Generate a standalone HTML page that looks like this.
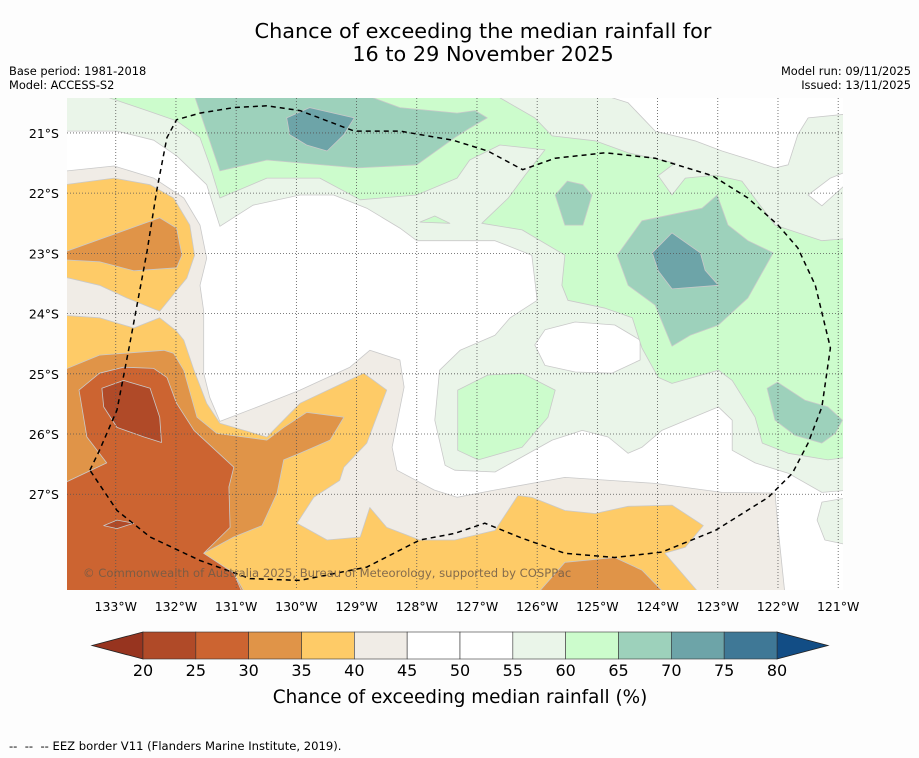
<!DOCTYPE html>
<html><head><meta charset="utf-8"><style>
body{margin:0;background:#fdfdfd;width:919px;height:758px;overflow:hidden;font-family:"DejaVu Sans","Liberation Sans",sans-serif;}
svg{position:absolute;left:0;top:0}
text{white-space:pre}
</style></head><body>
<svg id="chart" width="919" height="758">
<text x="483" y="38" font-size="20.8" text-anchor="middle" fill="#000">Chance of exceeding the median rainfall for</text>
<text x="483" y="61" font-size="20.8" text-anchor="middle" fill="#000">16 to 29 November 2025</text>
<text x="9" y="75" font-size="11.4">Base period: 1981-2018</text>
<text x="9" y="89" font-size="11.4">Model: ACCESS-S2</text>
<text x="911" y="75" font-size="11.4" text-anchor="end">Model run: 09/11/2025</text>
<text x="911" y="89" font-size="11.4" text-anchor="end">Issued: 13/11/2025</text>
<defs><clipPath id="pc"><rect x="67" y="98" width="776" height="492"/></clipPath></defs>
<rect x="67" y="98" width="776" height="492" fill="#ffffff"/>
<g id="regions" clip-path="url(#pc)"></g>
<g id="grid" clip-path="url(#pc)"></g>
<g id="eez" clip-path="url(#pc)"></g>
<text x="83" y="577" font-size="11.6" fill="#6e5a48" fill-opacity="0.85">© Commonwealth of Australia 2025, Bureau of Meteorology, supported by COSPPac</text>
<g id="axes"></g>
<g id="cbar"></g>
<text x="460" y="703" font-size="18.4" text-anchor="middle">Chance of exceeding median rainfall (%)</text>
<text x="9" y="750" font-size="11.6">--  --  -- EEZ border V11 (Flanders Marine Institute, 2019).</text>
</svg>
<script>
// Map extent (degrees W / degrees S)
const lonWest = 133.81, lonEast = 120.92, latNorth = 20.42, latSouth = 28.59;
const lonTicks = [133,132,131,130,129,128,127,126,125,124,123,122,121];
const latTicks = [21,22,23,24,25,26,27];
const cbarLevels = [20,25,30,35,40,45,50,55,60,65,70,75,80];

// Contour region polygons [lonW, latS]
const paleNorth = [[134.0,20.3],[134.0,20.97],[132.98,20.97],[132.37,21.12],[131.99,21.38],[131.49,21.86],[131.27,22.55],[130.72,22.2],[129.94,22.03],[129.38,22.03],[128.83,22.25],[128.28,22.58],[128.0,22.79],[127.37,22.79],[126.7,22.79],[126.09,23.03],[126.0,23.78],[126.45,24.07],[126.7,24.36],[127.28,24.61],[127.62,24.94],[127.7,25.77],[127.53,26.52],[127.37,26.6],[126.7,26.63],[125.75,26.1],[125.25,25.94],[124.82,26.05],[124.49,26.32],[124.26,26.22],[123.93,25.94],[122.99,25.55],[122.76,25.77],[122.76,26.27],[122.38,26.48],[121.83,26.65],[121.27,26.97],[120.8,26.93],[120.8,20.3]];
const whiteCentral = [[126.04,24.52],[125.87,24.27],[125.37,24.14],[124.71,24.19],[124.29,24.44],[124.29,24.77],[124.76,24.99],[125.37,24.97],[125.87,24.86]];
const whiteNorthEast = [[125.12,20.3],[124.49,20.5],[124.04,20.97],[123.38,21.13],[122.93,21.3],[122.38,21.47],[122.05,21.58],[121.83,21.53],[121.67,21.03],[121.5,20.75],[120.8,20.68],[120.8,20.3]];
const whiteEastA = [[121.5,22.03],[121.27,22.21],[120.88,21.86],[120.88,21.65],[121.13,21.75]];
const whiteEastB = [[122.26,24.27],[122.05,24.01],[121.63,23.98],[121.58,24.14],[121.96,24.37]];
const paleSouthEast = [[121.35,27.43],[121.27,27.13],[120.8,27.05],[120.8,27.85],[121.22,27.76]];
const greenNorth = [[133.1,20.3],[126.82,20.3],[126.04,20.75],[125.75,21.05],[125.04,21.13],[124.49,21.33],[123.71,21.5],[123.99,21.71],[123.76,22.03],[123.54,21.75],[123.04,21.7],[122.6,21.8],[122.05,22.53],[121.27,22.79],[120.8,22.75],[120.8,26.38],[121.17,26.43],[121.83,26.32],[122.26,26.15],[122.38,25.72],[122.66,25.27],[122.76,25.11],[122.99,24.94],[123.76,25.16],[123.99,25.06],[124.26,24.57],[124.42,24.07],[124.87,23.91],[125.49,23.78],[125.59,23.53],[125.54,23.03],[126.25,22.61],[126.92,22.5],[126.48,22.08],[126.2,21.7],[125.87,21.28],[126.62,21.2],[127.12,21.45],[127.33,21.75],[128.0,22.03],[128.94,22.11],[129.61,21.75],[130.49,21.75],[131.27,22.08],[131.44,21.53],[131.6,21.08],[131.99,20.8],[132.48,20.63],[133.1,20.42]];
const greenSpeck = [[127.95,22.48],[127.7,22.38],[127.45,22.5]];
const greenWest = [[127.32,25.27],[126.82,25.02],[126.25,24.99],[125.7,25.27],[125.82,25.72],[126.25,26.22],[126.98,26.43],[127.32,26.27],[127.32,25.82]];
const tealNorth = [[131.72,20.3],[129.04,20.3],[128.28,20.58],[127.33,20.67],[127.03,20.63],[126.83,20.75],[127.12,20.92],[127.37,21.08],[128.0,21.53],[128.99,21.58],[130.49,21.45],[131.27,21.63]];
const tealSmall = [[125.7,22.03],[125.5,21.8],[125.24,21.86],[125.09,22.03],[125.24,22.53],[125.54,22.53]];
const tealCentral = [[124.67,23.03],[124.26,22.46],[123.26,22.25],[123.01,22.03],[122.83,22.53],[122.5,22.79],[122.08,22.99],[122.5,23.74],[122.99,24.19],[123.46,24.36],[123.76,24.54],[124.04,23.86],[124.49,23.53]];
const tealEast = [[122.18,25.24],[122.01,25.14],[121.55,25.44],[121.17,25.55],[120.93,25.77],[121.05,25.99],[121.27,26.15],[121.72,26.02],[122.05,25.77]];
const darkTealNorth = [[130.16,20.75],[129.78,20.58],[129.04,20.75],[129.21,21.03],[129.49,21.3],[129.83,21.2],[130.11,21.03]];
const darkTealCentral = [[124.09,22.99],[123.76,22.66],[123.29,22.99],[123.21,23.28],[122.99,23.53],[123.76,23.59],[123.99,23.29]];
const beigeSouth = [[134.0,21.63],[133.81,21.63],[133.03,21.55],[132.37,21.75],[131.87,22.08],[131.6,22.53],[131.49,23.08],[131.6,23.53],[131.54,23.96],[131.54,24.44],[131.54,24.99],[131.44,25.39],[131.27,25.79],[130.49,25.49],[129.94,25.27],[129.11,24.89],[128.78,24.61],[128.28,24.77],[128.21,25.22],[128.41,26.22],[128.33,26.6],[127.71,26.93],[127.33,27.05],[126.7,26.93],[125.54,26.72],[124.04,26.82],[122.93,26.97],[122.05,26.98],[122.0,27.55],[121.88,28.7],[134.0,28.7]];
const yellowNorthWest = [[134.0,21.88],[133.03,21.75],[132.43,21.86],[132.04,22.08],[131.77,22.53],[131.69,23.03],[131.82,23.41],[132.27,23.96],[132.82,23.74],[133.27,23.53],[134.0,23.36]];
const yellowSouth = [[134.0,24.02],[133.27,24.07],[132.7,24.24],[132.27,24.07],[131.99,24.29],[131.87,24.44],[131.7,24.94],[131.49,25.49],[131.27,25.82],[130.49,26.05],[129.94,25.49],[128.88,24.99],[128.5,25.27],[128.83,26.15],[129.21,26.55],[129.28,26.77],[129.71,27.05],[129.99,27.48],[129.49,27.76],[128.94,27.71],[128.78,27.22],[128.5,27.55],[127.95,27.76],[127.37,27.76],[126.7,27.6],[126.32,27.02],[126.09,27.05],[125.54,27.27],[125.04,27.32],[124.49,27.2],[123.76,27.18],[123.24,27.52],[123.54,27.88],[123.88,27.98],[123.26,28.7],[134.0,28.7]];
const orangeNorthWest = [[134.0,23.03],[132.27,22.41],[131.99,22.58],[131.9,23.03],[131.99,23.24],[132.7,23.29],[133.27,23.14],[134.0,23.1]];
const orangeSouth = [[134.0,24.99],[133.27,24.69],[132.2,24.61],[132.04,24.66],[131.87,24.94],[131.65,25.72],[131.32,25.99],[130.49,26.1],[130.21,25.89],[129.83,25.64],[129.21,25.72],[129.44,26.1],[129.94,26.32],[130.21,26.43],[130.32,26.98],[130.57,27.52],[131.04,27.71],[131.54,27.98],[131.04,28.31],[130.82,28.7],[134.0,28.7]];
const orangeSouthEast = [[126.04,28.7],[125.54,28.13],[124.71,28.05],[124.26,28.26],[123.83,28.7]];
const redSouthWest = [[134.0,26.88],[133.15,26.48],[133.48,26.05],[133.61,25.27],[133.27,24.99],[132.87,24.89],[132.37,24.91],[132.15,25.06],[131.99,25.49],[131.7,25.94],[131.04,26.55],[131.12,26.88],[131.1,27.55],[131.54,27.98],[131.04,28.31],[130.87,28.7],[134.0,28.7]];
const redSouthEast = [[125.59,28.7],[125.35,28.62],[124.92,28.62],[124.76,28.7]];
const darkRedCore = [[133.23,25.24],[132.87,25.11],[132.43,25.24],[132.27,25.72],[132.24,26.14],[132.53,26.05],[132.98,25.89],[133.2,25.55]];
const darkRedSpeck = [[133.2,27.52],[132.98,27.43],[132.7,27.48],[132.98,27.57]];

// Region draw order and the chance (%) value each region represents
const regionShapes = [paleNorth, whiteCentral, whiteNorthEast, whiteEastA, whiteEastB, paleSouthEast, greenNorth, greenSpeck, greenWest, tealNorth, tealSmall, tealCentral, tealEast, darkTealNorth, darkTealCentral, beigeSouth, yellowNorthWest, yellowSouth, orangeNorthWest, orangeSouth, orangeSouthEast, redSouthWest, redSouthEast, darkRedCore, darkRedSpeck];
const regionValues = [57.5, 47.5, 47.5, 47.5, 47.5, 57.5, 62.5, 62.5, 62.5, 67.5, 67.5, 67.5, 67.5, 72.5, 72.5, 42.5, 37.5, 37.5, 32.5, 32.5, 32.5, 27.5, 27.5, 22.5, 22.5];
const regionNames = ['pale-green-north','white-central','white-northeast','white-east-a','white-east-b','pale-green-southeast','green-north','green-speck','green-west','teal-north','teal-small','teal-central','teal-east','dark-teal-north','dark-teal-central','beige-south','yellow-northwest','yellow-south','orange-northwest','orange-south','orange-southeast','red-southwest','red-southeast','dark-red-core','dark-red-speck'];

// EEZ boundary [lonW, latS]
const eezLon = [133.43,133.27,132.98,132.77,132.48,132.32,132.15,131.99,131.6,131.04,130.49,129.94,129.04,128.28,127.4,126.82,126.24,125.7,124.87,124.04,123.09,122.5,122.0,121.67,121.38,121.13,121.27,121.5,121.76,122.16,123.04,123.93,124.71,125.54,126.25,126.87,127.37,127.95,128.83,129.94,130.77,131.6,132.43,132.98,133.43];
const eezLat = [26.6,26.27,25.6,24.52,22.96,21.96,21.08,20.78,20.67,20.58,20.55,20.63,20.97,20.97,21.12,21.3,21.61,21.42,21.33,21.42,21.71,22.08,22.53,22.91,23.53,24.57,25.55,26.15,26.65,27.05,27.6,27.96,28.05,27.98,27.73,27.48,27.65,27.76,28.21,28.43,28.4,28.1,27.71,27.27,26.6];

const colorBins = ['#b04a28','#cc6431','#e09448','#fecb67','#f0ece6','#ffffff','#ffffff','#eaf5e9','#ccfccc','#9dd1bb','#6da4a8','#3f7896'];
const NS = 'http://www.w3.org/2000/svg';
const X0 = 67, X1 = 843, Y0 = 98, Y1 = 590;
function xScale(lon){ return X0 + (lonWest - lon) / (lonWest - lonEast) * (X1 - X0); }
function yScale(lat){ return Y0 + (lat - latNorth) / (latSouth - latNorth) * (Y1 - Y0); }
function colorFor(v){ if (v < 20) return '#97341f'; if (v >= 80) return '#124d85'; return colorBins[Math.floor((v - 20) / 5)]; }
function mk(tag, attrs, parent){ const e = document.createElementNS(NS, tag); for (const k in attrs) e.setAttribute(k, attrs[k]); parent.appendChild(e); return e; }

const gR = document.getElementById('regions');
regionShapes.forEach((poly, i) => {
  const pts = poly.map(p => xScale(p[0]).toFixed(1) + ',' + yScale(p[1]).toFixed(1)).join(' ');
  const el = mk('polygon', {points: pts, fill: colorFor(regionValues[i]), stroke: '#c9c9c9', 'stroke-width': '0.8', 'stroke-linejoin': 'round'}, gR);
  
  
});

const gG = document.getElementById('grid');
const gA = document.getElementById('axes');
lonTicks.forEach(lon => {
  const x = xScale(lon);
  const l = mk('line', {x1: x, x2: x, y1: Y0, y2: Y1, stroke: '#555', 'stroke-width': '0.8', 'stroke-dasharray': '1,2'}, gG);
  
  
  const t = mk('text', {x: x, y: 611, 'font-size': '12.5', 'text-anchor': 'middle'}, gA);
  t.textContent = lon + '°W';
  
  
});
latTicks.forEach(lat => {
  const y = yScale(lat);
  const l = mk('line', {x1: X0, x2: X1, y1: y, y2: y, stroke: '#555', 'stroke-width': '0.8', 'stroke-dasharray': '1,2'}, gG);
  
  
  const t = mk('text', {x: 59, y: y + 5, 'font-size': '12.5', 'text-anchor': 'end'}, gA);
  t.textContent = lat + '°S';
  
  
});

const gE = document.getElementById('eez');
const eezPts = eezLon.map((lon, i) => xScale(lon).toFixed(1) + ',' + yScale(eezLat[i]).toFixed(1)).join(' ');
const eez = mk('polyline', {points: eezPts, fill: 'none', stroke: '#000', 'stroke-width': '1.5', 'stroke-dasharray': '5,4'}, gE);



// Colorbar
const gC = document.getElementById('cbar');
const cbL = 143, cbR = 777, cbT = 632, cbB = 659;
const cw = (cbR - cbL) / colorBins.length;
const lt = mk('polygon', {points: `92,${(cbT+cbB)/2} ${cbL},${cbT} ${cbL},${cbB}`, fill: '#97341f', stroke: '#222', 'stroke-width': '0.8'}, gC);


const rt = mk('polygon', {points: `828,${(cbT+cbB)/2} ${cbR},${cbT} ${cbR},${cbB}`, fill: '#124d85', stroke: '#222', 'stroke-width': '0.8'}, gC);


colorBins.forEach((c, i) => {
  const r = mk('rect', {x: cbL + i * cw, y: cbT, width: cw, height: cbB - cbT, fill: c, stroke: '#333', 'stroke-width': '0.6'}, gC);
  
  
});
cbarLevels.forEach((v, i) => {
  const t = mk('text', {x: cbL + i * cw, y: 676, 'font-size': '16', 'text-anchor': 'middle'}, gC);
  t.textContent = v;
  
  
});
</script>
</body></html>
